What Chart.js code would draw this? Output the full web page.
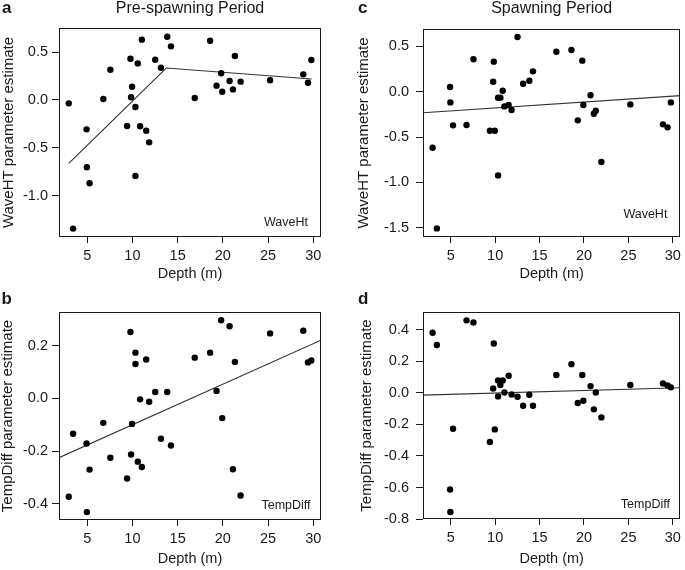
<!DOCTYPE html>
<html>
<head>
<meta charset="utf-8">
<script src="https://cdn.jsdelivr.net/npm/chart.js@4.4.1/dist/chart.umd.min.js"></script>
<style>
  html, body { margin: 0; padding: 0; background: #fff; }
  #wrap { position: relative; width: 685px; height: 570px; overflow: hidden; }
  #wrap canvas { position: absolute; }
</style>
</head>
<body>
<div id="wrap">
  <canvas id="chart-a"></canvas>
  <canvas id="chart-b"></canvas>
  <canvas id="chart-c"></canvas>
  <canvas id="chart-d"></canvas>
</div>
<script>
(function() {
  "use strict";

  // site depths (m), shared by all four panels
  var DEPTH = [2.96, 3.44, 4.93, 4.96, 5.26, 6.78, 7.56, 9.41, 9.78, 9.85, 9.96, 10.33, 10.33, 10.59, 10.85,
               11.04, 11.52, 11.85, 12.52, 13.15, 13.85, 14.26, 16.89, 18.59, 19.30, 19.81, 19.93, 20.74,
               21.11, 21.33, 21.96, 25.22, 28.89, 29.41, 29.78];
  var X_TICKS = [5, 10, 15, 20, 25, 30];
  var X_MIN = 1.88, X_MAX = 30.85;

  // a: pre-spawning, WaveHT
  var A_EST = [-0.035, -1.345, -0.307, -0.704, -0.871, 0.01, 0.317, -0.272, 0.432, 0.028, 0.139, -0.073,
               -0.794, 0.383, -0.275, 0.631, -0.321, -0.443, 0.422, 0.338, 0.662, 0.561, 0.021, 0.62, 0.15,
               0.279, 0.087, 0.199, 0.111, 0.46, 0.192, 0.206, 0.268, 0.181, 0.418];
  var A_FIT_X = [2.96, 13.74, 29.81];
  var A_FIT_Y = [-0.662, 0.334, 0.220];
  var A_Y_TICKS = [-1.0, -0.5, 0.0, 0.5];
  var A_Y_RANGE = [-1.433, 0.753];

  // b: pre-spawning, TempDiff
  var B_EST = [-0.373, -0.134, -0.171, -0.431, -0.270, -0.093, -0.225, -0.304, 0.251, -0.213, -0.097, 0.130,
               0.173, -0.240, -0.004, -0.260, 0.147, -0.013, 0.024, -0.153, 0.024, -0.179, 0.154, 0.173,
               0.028, 0.296, -0.075, 0.273, -0.269, 0.138, -0.368, 0.246, 0.256, 0.136, 0.143];
  var B_FIT_X = [1.88, 30.85];
  var B_FIT_Y = [-0.225, 0.220];
  var B_Y_TICKS = [-0.4, -0.2, 0.0, 0.2];
  var B_Y_RANGE = [-0.461, 0.327];

  // c: spawning, WaveHT
  var C_EST = [-0.618, -1.507, 0.051, -0.118, -0.371, -0.368, 0.357, -0.43, 0.11, 0.331, -0.43, -0.066,
               -0.923, -0.066, 0.011, -0.162, -0.147, -0.202, 0.603, 0.088, 0.121, 0.224, 0.441, 0.46,
               -0.316, 0.342, -0.147, -0.04, -0.243, -0.21, -0.776, -0.14, -0.36, -0.393, -0.118];
  var C_FIT_X = [1.88, 30.85];
  var C_FIT_Y = [-0.232, -0.043];
  var C_Y_TICKS = [-1.5, -1.0, -0.5, 0.0, 0.5];
  var C_Y_RANGE = [-1.602, 0.691];

  // d: spawning, TempDiff
  var D_EST = [0.380, 0.302, -0.612, -0.755, -0.228, 0.458, 0.445, -0.312, 0.027, 0.312, -0.232, 0.078,
               -0.023, 0.049, 0.078, 0.002, 0.108, -0.011, -0.025, -0.082, -0.013, -0.082, 0.112, 0.181,
               -0.065, 0.112, -0.051, 0.042, -0.105, 0.002, -0.156, 0.049, 0.059, 0.046, 0.034];
  var D_FIT_X = [1.88, 30.85];
  var D_FIT_Y = [-0.015, 0.032];
  var D_Y_TICKS = [-0.8, -0.6, -0.4, -0.2, 0.0, 0.2, 0.4];
  var D_Y_RANGE = [-0.799, 0.511];

  var FONT = "'Liberation Sans', Arial, Helvetica, sans-serif";
  var INK = '#1a1a1a';

  Chart.defaults.font.family = FONT;
  Chart.defaults.color = INK;

  // canvas = quadrant on the page, area = plot box inside it (left/top/right/bottom margins)
  var PANELS = [
    { id: 'chart-a', letter: 'a', title: 'Pre-spawning Period', tag: 'WaveHt', yTitle: 'WaveHT parameter estimate',
      est: A_EST, fitX: A_FIT_X, fitY: A_FIT_Y, yTicks: A_Y_TICKS, yRange: A_Y_RANGE,
      canvas: { left: 0, top: 0, w: 342, h: 285 }, area: { left: 59, top: 28, right: 21, bottom: 48 },
      yTitlePad: 1.5, yTickPad: 4, letterX: 2, letterY: 12.7, tagLift: 11.3 },
    { id: 'chart-b', letter: 'b', title: '', tag: 'TempDiff', yTitle: 'TempDiff parameter estimate',
      est: B_EST, fitX: B_FIT_X, fitY: B_FIT_Y, yTicks: B_Y_TICKS, yRange: B_Y_RANGE,
      canvas: { left: 0, top: 285, w: 342, h: 285 }, area: { left: 59, top: 27, right: 21, bottom: 50 },
      yTitlePad: 0, yTickPad: 4, letterX: 1.5, letterY: 19, tagLift: 11 },
    { id: 'chart-c', letter: 'c', title: 'Spawning Period', tag: 'WaveHt', yTitle: 'WaveHT parameter estimate',
      est: C_EST, fitX: C_FIT_X, fitY: C_FIT_Y, yTicks: C_Y_TICKS, yRange: C_Y_RANGE,
      canvas: { left: 342, top: 0, w: 343, h: 285 }, area: { left: 81, top: 29, right: 2, bottom: 48 },
      yTitlePad: 14, yTickPad: 7, letterX: 16, letterY: 12.7, tagLift: 19 },
    { id: 'chart-d', letter: 'd', title: '', tag: 'TempDiff', yTitle: 'TempDiff parameter estimate',
      est: D_EST, fitX: D_FIT_X, fitY: D_FIT_Y, yTicks: D_Y_TICKS, yRange: D_Y_RANGE,
      canvas: { left: 342, top: 285, w: 343, h: 285 }, area: { left: 81, top: 27, right: 2, bottom: 51 },
      yTitlePad: 17, yTickPad: 7, letterX: 16, letterY: 19, tagLift: 11 }
  ];

  function toPoints(xs, ys) {
    return xs.map(function(x, i) { return { x: x, y: ys[i] }; });
  }

  function tickList(values) {
    return values.map(function(v) { return { value: v }; });
  }

  // box round the plot, panel letter, period title, variable tag
  function framePlugin(p) {
    return {
      id: 'frame',
      afterDraw: function(chart) {
        var ctx = chart.ctx;
        var a = chart.chartArea;
        ctx.save();
        ctx.strokeStyle = INK;
        ctx.lineWidth = 1;
        var l = Math.round(a.left) + 0.5, t = Math.round(a.top) + 0.5;
        var r = Math.round(a.right) - 0.5, b = Math.round(a.bottom) - 0.5;
        ctx.strokeRect(l, t, r - l, b - t);

        ctx.fillStyle = INK;
        ctx.textBaseline = 'alphabetic';
        ctx.textAlign = 'left';
        ctx.font = 'bold 17px ' + FONT;
        ctx.fillText(p.letter, p.letterX, p.letterY);

        if (p.title) {
          ctx.textAlign = 'center';
          ctx.font = '16px ' + FONT;
          ctx.fillText(p.title, (a.left + a.right) / 2, p.letterY);
        }

        ctx.textAlign = 'center';
        ctx.font = '12.5px ' + FONT;
        ctx.fillText(p.tag, a.right - 35, a.bottom - p.tagLift);
        ctx.restore();
      }
    };
  }

  function makeChart(p) {
    var cv = document.getElementById(p.id);
    cv.width = p.canvas.w;
    cv.height = p.canvas.h;
    cv.style.left = p.canvas.left + 'px';
    cv.style.top = p.canvas.top + 'px';

    return new Chart(cv, {
      type: 'scatter',
      data: {
        datasets: [{
          data: toPoints(DEPTH, p.est),
          backgroundColor: '#000',
          borderWidth: 0,
          pointRadius: 3.2
        }, {
          type: 'line',
          data: toPoints(p.fitX, p.fitY),
          borderColor: '#333',
          borderWidth: 1.1,
          pointRadius: 0,
          fill: false,
          tension: 0
        }]
      },
      options: {
        responsive: false,
        animation: false,
        layout: { padding: { left: 0, top: p.area.top, right: p.area.right, bottom: 0 } },
        plugins: {
          legend: { display: false },
          tooltip: { enabled: false }
        },
        scales: {
          x: {
            type: 'linear',
            min: X_MIN,
            max: X_MAX,
            afterFit: function(s) { s.height = p.area.bottom; },
            afterBuildTicks: function(s) { s.ticks = tickList(X_TICKS); },
            grid: { drawOnChartArea: false, drawTicks: true, tickLength: 6, color: INK },
            border: { display: false },
            ticks: {
              padding: 4,
              maxRotation: 0,
              autoSkip: false,
              color: INK,
              font: { size: 14.5 },
              callback: function(v) { return String(v); }
            },
            title: {
              display: true,
              text: 'Depth (m)',
              color: INK,
              font: { size: 14.5 },
              padding: { top: 0, bottom: 2.3 }
            }
          },
          y: {
            type: 'linear',
            min: p.yRange[0],
            max: p.yRange[1],
            afterFit: function(s) { s.width = p.area.left; },
            afterBuildTicks: function(s) { s.ticks = tickList(p.yTicks); },
            grid: { drawOnChartArea: false, drawTicks: true, tickLength: 7, color: INK },
            border: { display: false },
            ticks: {
              padding: p.yTickPad,
              autoSkip: false,
              color: INK,
              font: { size: 14.5 },
              callback: function(v) { return Number(v).toFixed(1); }
            },
            title: {
              display: true,
              text: p.yTitle,
              color: INK,
              font: { size: 15, lineHeight: 1 },
              padding: { top: p.yTitlePad, bottom: 0 }
            }
          }
        }
      },
      plugins: [framePlugin(p)]
    });
  }

  PANELS.forEach(makeChart);
})();
</script>
</body>
</html>
